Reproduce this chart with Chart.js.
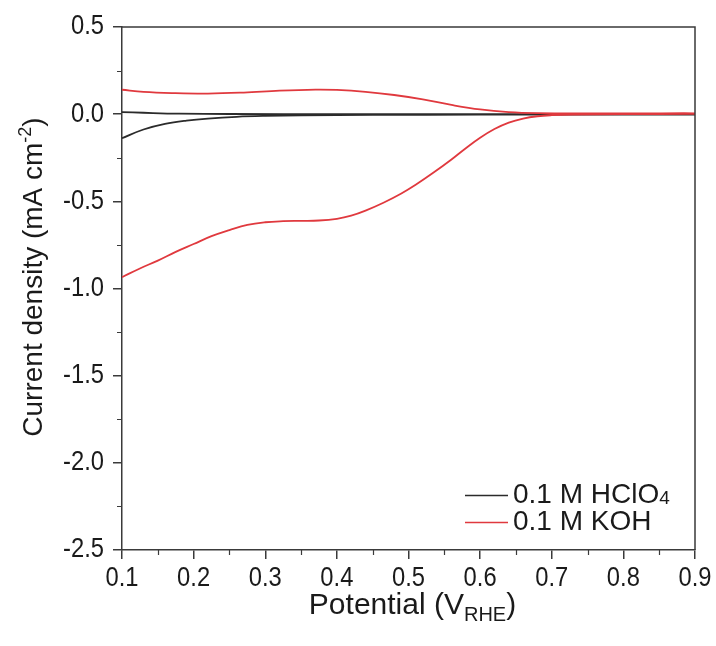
<!DOCTYPE html>
<html>
<head>
<meta charset="utf-8">
<script src="https://cdn.jsdelivr.net/npm/chart.js@4.4.1/dist/chart.umd.min.js"></script>
<style>
  html, body { margin: 0; padding: 0; background: #ffffff; }
  #wrap { width: 716px; height: 646px; }
</style>
</head>
<body>
<div id="wrap"><canvas id="cv" width="716" height="646"></canvas></div>
<script>
// Cyclic voltammograms: anodic sweep 0.1 -> 0.9 V, then cathodic sweep back to 0.1 V
const seriesNames = ['0.1 M HClO4', '0.1 M KOH'];

const hclo4Potential = [0.10, 0.13, 0.18, 0.25, 0.40, 0.60, 0.90,
                        0.90, 0.76, 0.60, 0.45, 0.35, 0.30, 0.26, 0.22, 0.19, 0.16, 0.13, 0.10];
const hclo4Current   = [0.012, 0.008, 0.003, 0.001, 0.000, 0.000, 0.000,
                        -0.002, -0.002, -0.003, -0.004, -0.007, -0.010, -0.015, -0.025, -0.037, -0.056, -0.088, -0.138];

const kohPotential = [0.10, 0.13, 0.17, 0.22, 0.27, 0.32, 0.37, 0.40, 0.44, 0.48, 0.52, 0.56, 0.60, 0.64, 0.68, 0.75, 0.82, 0.90,
                      0.90, 0.80, 0.73, 0.70, 0.68, 0.66, 0.64, 0.62, 0.60, 0.58, 0.56, 0.535, 0.51, 0.49, 0.465, 0.44, 0.42, 0.40, 0.375, 0.35, 0.325, 0.30, 0.275, 0.25, 0.225, 0.20, 0.175, 0.15, 0.125, 0.10];
const kohCurrent   = [0.140, 0.128, 0.121, 0.118, 0.124, 0.135, 0.141, 0.139, 0.128, 0.110, 0.085, 0.053, 0.027, 0.012, 0.006, 0.004, 0.004, 0.005,
                      0.002, 0.000, -0.002, -0.006, -0.012, -0.025, -0.048, -0.085, -0.135, -0.195, -0.260, -0.335, -0.405, -0.455, -0.508, -0.553, -0.582, -0.600, -0.610, -0.612, -0.614, -0.620, -0.635, -0.665, -0.700, -0.745, -0.790, -0.840, -0.885, -0.935];

const xTicks = [0.1, 0.2, 0.3, 0.4, 0.5, 0.6, 0.7, 0.8, 0.9];
const yTicks = [0.5, 0.0, -0.5, -1.0, -1.5, -2.0, -2.5];

const FONT = '"Liberation Sans", Arial, Helvetica, sans-serif';
const AXIS_COLOR = '#3a3a3a';
const TEXT_COLOR = '#1a1a1a';

function toPoints(xs, ys) { return xs.map((x, i) => ({ x: x, y: ys[i] })); }

// text drawn with an optional horizontal condensing
function condensedText(ctx, text, x, y, size, sx, align, baseline) {
  ctx.save();
  ctx.font = size + 'px ' + FONT;
  ctx.textAlign = align;
  ctx.textBaseline = baseline;
  ctx.translate(x, y);
  ctx.scale(sx, 1);
  ctx.fillText(text, 0, 0);
  ctx.restore();
}

// Frame, minor ticks, tick labels, axis titles with sub/superscripts and the inset legend
const decorations = {
  id: 'decorations',
  afterDraw(chart) {
    const ctx = chart.ctx;
    const a = chart.chartArea;
    const xs = chart.scales.x, ys = chart.scales.y;
    ctx.save();
    ctx.strokeStyle = AXIS_COLOR;
    ctx.lineWidth = 1.5;
    // top and right border
    ctx.beginPath();
    ctx.moveTo(a.left, a.top); ctx.lineTo(a.right, a.top); ctx.lineTo(a.right, a.bottom);
    ctx.stroke();
    // minor ticks (outward)
    ctx.lineWidth = 1.2;
    ctx.beginPath();
    for (let v = 0.15; v < 0.9; v += 0.1) {
      const px = Math.round(xs.getPixelForValue(v)) + 0.5;
      ctx.moveTo(px, a.bottom); ctx.lineTo(px, a.bottom + 5);
    }
    for (let v = 0.25; v > -2.5; v -= 0.5) {
      const py = Math.round(ys.getPixelForValue(v)) + 0.5;
      ctx.moveTo(a.left, py); ctx.lineTo(a.left - 5, py);
    }
    ctx.stroke();

    ctx.fillStyle = TEXT_COLOR;
    // tick labels
    xTicks.forEach(v => condensedText(ctx, v.toFixed(1), xs.getPixelForValue(v), a.bottom + 29, 27, 0.88, 'center', 'middle'));
    yTicks.forEach(v => condensedText(ctx, v.toFixed(1), a.left - 18, ys.getPixelForValue(v), 27, 0.88, 'right', 'middle'));

    ctx.textBaseline = 'alphabetic';
    // x title: Potential (V_RHE)
    {
      const big = '30px ' + FONT, small = '20px ' + FONT;
      ctx.font = big; const w1 = ctx.measureText('Potential (V').width;
      const w3 = ctx.measureText(')').width;
      ctx.font = small; const w2 = ctx.measureText('RHE').width;
      const total = w1 + w2 + w3;
      let x = (a.left + a.right) / 2 - total / 2 + 4;
      const base = 614;
      ctx.textAlign = 'left';
      ctx.font = big; ctx.fillText('Potential (V', x, base); x += w1;
      ctx.font = small; ctx.fillText('RHE', x, base + 7); x += w2;
      ctx.font = big; ctx.fillText(')', x, base);
    }
    // y title: Current density (mA cm^-2)
    {
      const big = '28px ' + FONT, small = '18px ' + FONT;
      ctx.font = big; const w1 = ctx.measureText('Current density (mA cm').width;
      const w3 = ctx.measureText(')').width;
      ctx.font = small; const w2 = ctx.measureText('-2').width;
      const total = w1 + w2 + w3;
      ctx.save();
      ctx.translate(42, 277);
      ctx.rotate(-Math.PI / 2);
      let x = -total / 2;
      ctx.textAlign = 'left';
      ctx.font = big; ctx.fillText('Current density (mA cm', x, 0); x += w1;
      ctx.font = small; ctx.fillText('-2', x, -11); x += w2;
      ctx.font = big; ctx.fillText(')', x, 0);
      ctx.restore();
    }
    // legend
    {
      const rows = [495, 522];
      const textX = 513;
      const size = 28;
      chart.data.datasets.slice().sort((p, q) => p.legendRank - q.legendRank).forEach((ds, i) => {
        const y = rows[i];
        ctx.strokeStyle = ds.borderColor;
        ctx.lineWidth = 1.6;
        ctx.beginPath(); ctx.moveTo(465, y + 0.5); ctx.lineTo(508, y + 0.5); ctx.stroke();
        ctx.fillStyle = TEXT_COLOR;
        const label = ds.label;
        if (label.endsWith('4')) {
          const main = label.slice(0, -1);
          condensedText(ctx, main, textX, y, size, 1, 'left', 'middle');
          ctx.font = size + 'px ' + FONT;
          const w = ctx.measureText(main).width;
          condensedText(ctx, '4', textX + w, y + 4, 19, 1, 'left', 'middle');
        } else {
          condensedText(ctx, label, textX, y, size, 1, 'left', 'middle');
        }
      });
    }
    ctx.restore();
  }
};

new Chart(document.getElementById('cv'), {
  type: 'scatter',
  data: {
    datasets: [
      {
        label: seriesNames[1],
        legendRank: 1,
        data: toPoints(kohPotential, kohCurrent),
        showLine: true,
        borderColor: '#e0393e',
        borderWidth: 1.8,
        pointRadius: 0,
        tension: 0.4,
        order: 0
      },
      {
        label: seriesNames[0],
        legendRank: 0,
        data: toPoints(hclo4Potential, hclo4Current),
        showLine: true,
        borderColor: '#2b2b2b',
        borderWidth: 1.8,
        pointRadius: 0,
        tension: 0.4,
        order: 1
      }
    ]
  },
  options: {
    responsive: false,
    devicePixelRatio: 1,
    animation: false,
    layout: { padding: { top: 27, right: 21, left: 0, bottom: 0 } },
    plugins: { legend: { display: false }, tooltip: { enabled: false } },
    scales: {
      x: {
        type: 'linear',
        min: 0.1, max: 0.9,
        afterBuildTicks(scale) { scale.ticks = xTicks.map(v => ({ value: v })); },
        afterFit(scale) { scale.height = 96; },
        border: { display: true, color: AXIS_COLOR, width: 1.5 },
        grid: { display: true, drawOnChartArea: false, drawTicks: true, tickLength: 9, color: AXIS_COLOR, lineWidth: 1.5 },
        ticks: { display: false }
      },
      y: {
        type: 'linear',
        min: -2.5, max: 0.5,
        afterBuildTicks(scale) { scale.ticks = yTicks.map(v => ({ value: v })); },
        afterFit(scale) { scale.width = 122; },
        border: { display: true, color: AXIS_COLOR, width: 1.5 },
        grid: { display: true, drawOnChartArea: false, drawTicks: true, tickLength: 9, color: AXIS_COLOR, lineWidth: 1.5 },
        ticks: { display: false }
      }
    }
  },
  plugins: [decorations]
});
</script>
</body>
</html>
